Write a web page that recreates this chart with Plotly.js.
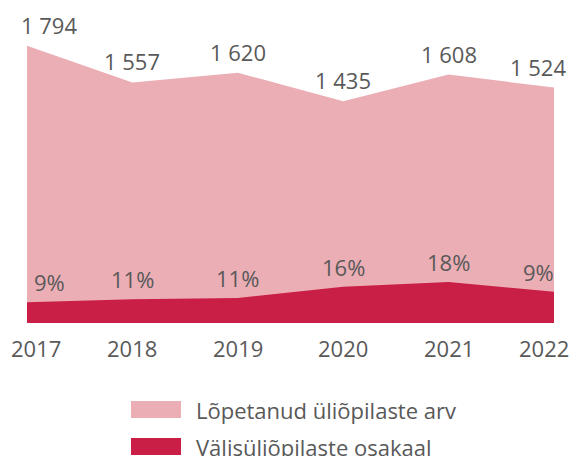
<!DOCTYPE html>
<html>
<head>
<meta charset="utf-8">
<script src="https://cdn.plot.ly/plotly-3.0.1.min.js"></script>
<style>html,body{margin:0;padding:0;background:#fff;}#chart{width:569px;height:456px;}</style>
</head>
<body>
<div id="chart"></div>
<script>
// Data
const years = [2017, 2018, 2019, 2020, 2021, 2022];
const yearLabels = ["2017", "2018", "2019", "2020", "2021", "2022"];
const graduates = [1794, 1557, 1620, 1435, 1608, 1524];          // Lõpetanud üliõpilaste arv
const graduateLabels = ["1 794", "1 557", "1 620", "1 435", "1 608", "1 524"];
const foreignArea = [134, 153, 162, 235, 265, 203];               // height of the crimson area (estimated)
const foreignShareLabels = ["9%", "11%", "11%", "16%", "18%", "9%"];
const seriesNames = ["Lõpetanud üliõpilaste arv", "Välisüliõpilaste osakaal"];

const PINK = "#ebaeb5";
const CRIMSON = "#c91e45";
const TEXT = "#595959";
const FONT = "'Open Sans', 'Liberation Sans', sans-serif";
const FS = 22;

// plot area in pixels (for legend / label placement)
const L = 27, R = 554, T = 14, B = 323;
const px = x => (x - L) / (R - L);
const py = y => (B - y) / (B - T);

const traces = [
  {x: years, y: graduates, type: "scatter", mode: "lines", fill: "tozeroy",
   fillcolor: PINK, line: {width: 0, color: PINK}, name: seriesNames[0], hoverinfo: "skip"},
  {x: years, y: foreignArea, type: "scatter", mode: "lines", fill: "tozeroy",
   fillcolor: CRIMSON, line: {width: 0, color: CRIMSON}, name: seriesNames[1], hoverinfo: "skip"}
];

const n = years.length;
const edgeShift = i => (i === 0 ? 22 : (i === n - 1 ? -16 : 0));
const tickShift = i => (i === 0 ? 9 : (i === n - 1 ? -10 : 0));
const annotations = [];
years.forEach((yr, i) => {
  annotations.push({x: yr, y: graduates[i], xref: "x", yref: "y", text: graduateLabels[i],
    showarrow: false, xanchor: "center", yanchor: "middle", yshift: 21, xshift: edgeShift(i),
    font: {family: FONT, size: FS, color: TEXT}});
  annotations.push({x: yr, y: foreignArea[i], xref: "x", yref: "y", text: foreignShareLabels[i],
    showarrow: false, xanchor: "center", yanchor: "middle", yshift: 20, xshift: edgeShift(i),
    font: {family: FONT, size: FS, color: TEXT}});
  // category (year) labels under the axis
  annotations.push({x: yr, y: py(348), xref: "x", yref: "paper", text: yearLabels[i],
    showarrow: false, xanchor: "center", yanchor: "middle", xshift: tickShift(i),
    font: {family: FONT, size: FS, color: TEXT}});
});
// custom legend
const legendRows = [{name: seriesNames[0], color: PINK, top: 401, bottom: 418, mid: 409.5},
                    {name: seriesNames[1], color: CRIMSON, top: 438, bottom: 455, mid: 447}];
const shapes = [];
legendRows.forEach(r => {
  shapes.push({type: "rect", xref: "paper", yref: "paper", x0: px(131), x1: px(181),
    y0: py(r.bottom), y1: py(r.top), fillcolor: r.color, line: {width: 0}});
  annotations.push({xref: "paper", yref: "paper", x: px(194), y: py(r.mid), text: r.name,
    showarrow: false, xanchor: "left", yanchor: "middle",
    font: {family: FONT, size: FS, color: TEXT}});
});

const layout = {
  width: 569, height: 456,
  margin: {l: L, r: 569 - R, t: T, b: 456 - B, pad: 0},
  paper_bgcolor: "#fff", plot_bgcolor: "#fff",
  showlegend: false,
  xaxis: {range: [2017, 2022], tickvals: years, showticklabels: false,
    showgrid: false, zeroline: false, showline: false, ticks: "", fixedrange: true},
  yaxis: {range: [0, 2000], showgrid: false, zeroline: false, showline: false,
    showticklabels: false, ticks: "", fixedrange: true},
  annotations: annotations,
  shapes: shapes
};

Plotly.newPlot("chart", traces, layout, {displayModeBar: false, staticPlot: true});
</script>
</body>
</html>
